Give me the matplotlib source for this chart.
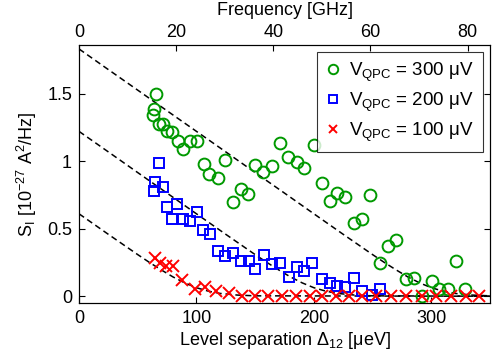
import matplotlib
matplotlib.use("Agg")
import matplotlib.pyplot as plt
from matplotlib import font_manager

names = {f.name for f in font_manager.fontManager.ttflist}
fam = 'Liberation Sans Narrow' if 'Liberation Sans Narrow' in names else 'Liberation Sans'
plt.rcParams['font.family'] = [fam, 'DejaVu Sans']
plt.rcParams['mathtext.fontset'] = 'custom'
plt.rcParams['mathtext.rm'] = fam
plt.rcParams['mathtext.it'] = fam + ':italic'
plt.rcParams['mathtext.bf'] = fam + ':bold'

# ---- data ----
green_x = [65.4, 63.7, 62.9, 68.0, 71.4, 74.8, 79.0, 84.1, 88.4, 94.3, 100.3, 106.2, 110.4, 118.1,
           124.0, 130.8, 137.6, 143.6, 149.5, 156.3, 164.0, 170.8, 177.6, 185.2, 192.0, 199.7,
           206.5, 213.3, 220.1, 226.8, 234.5, 241.3, 248.1, 256.6, 263.4, 270.2, 278.7, 285.5,
           292.3, 300.8, 306.7, 314.4, 321.2, 328.8]
green_y = [1.496, 1.385, 1.341, 1.274, 1.274, 1.222, 1.215, 1.148, 1.089, 1.148, 1.148, 0.978, 0.904, 0.874,
           1.007, 0.696, 0.793, 0.756, 0.970, 0.919, 0.963, 1.133, 1.030, 0.993, 0.948, 1.119,
           0.837, 0.704, 0.763, 0.733, 0.541, 0.570, 0.748, 0.244, 0.370, 0.415, 0.126, 0.133,
           0.000, 0.111, 0.052, 0.052, 0.259, 0.052]

blue_x = [68.0, 64.6, 71.4, 63.7, 74.8, 83.3, 79.0, 88.4, 94.3, 100.3, 105.4, 111.3, 118.1, 124.0,
          130.8, 137.6, 144.4, 149.5, 157.2, 164.0, 170.8, 178.4, 185.2, 192.0, 198.8, 206.5,
          213.3, 220.1, 226.8, 234.5, 241.3, 249.8, 256.6]
blue_y = [0.985, 0.844, 0.807, 0.778, 0.659, 0.681, 0.570, 0.570, 0.556, 0.622, 0.489, 0.459, 0.333, 0.296,
          0.319, 0.259, 0.259, 0.200, 0.304, 0.237, 0.244, 0.141, 0.215, 0.185, 0.244, 0.126,
          0.096, 0.074, 0.067, 0.133, 0.037, 0.007, 0.052]

red_x = [64.6, 68.8, 73.9, 79.9, 87.5, 98.6, 107.1, 116.4, 127.4, 138.5, 149.5, 160.6, 172.5, 184.4,
         196.3, 207.3, 219.2, 230.2, 241.3, 253.2, 265.9, 278.7, 292.3, 304.2, 316.9, 329.7, 340.7]
red_y = [0.281, 0.244, 0.222, 0.222, 0.119, 0.052, 0.067, 0.037, 0.022, 0.005, 0.0, 0.003, 0.0, 0.002,
         0.0, 0.003, 0.0, 0.0, 0.002, 0.0, 0.0, 0.003, 0.0, 0.0, 0.0, 0.0, 0.0]

# theory (dashed) curves
fit300_x = [0, 25, 50, 75, 100, 125, 150, 175, 200, 225, 240, 250, 260, 270, 280, 290, 300, 310, 320, 335, 350]
fit300_y = [1.83, 1.677, 1.525, 1.372, 1.22, 1.068, 0.915, 0.763, 0.610, 0.458, 0.368, 0.308, 0.250,
            0.195, 0.143, 0.099, 0.063, 0.038, 0.021, 0.0085, 0.003]
fit200_x = [0, 25, 50, 75, 100, 125, 140, 150, 160, 170, 180, 190, 200, 210, 220, 235, 250, 350]
fit200_y = [1.22, 1.068, 0.915, 0.763, 0.610, 0.458, 0.368, 0.308, 0.250, 0.195, 0.143, 0.099, 0.063,
            0.038, 0.021, 0.0085, 0.003, 0.0]
fit100_x = [0, 25, 40, 50, 60, 70, 80, 90, 100, 110, 120, 135, 150, 350]
fit100_y = [0.61, 0.458, 0.368, 0.308, 0.250, 0.195, 0.143, 0.099, 0.063, 0.038, 0.021, 0.0085, 0.003, 0.0]

x_ticks = [0, 100, 200, 300]
y_ticks = [0, 0.5, 1, 1.5]
y_ticklabels = ['0', '0.5', '1', '1.5']
f_ticks = [0, 20, 40, 60, 80]
ueV_per_GHz = 4.1357

green = '#009900'
blue = '#0000ff'
red = '#ff0000'

fig = plt.figure(figsize=(4.97, 3.62), dpi=100)
ax = fig.add_axes([0.159, 0.163, 0.827, 0.713])

for fx, fy in [(fit300_x, fit300_y), (fit200_x, fit200_y), (fit100_x, fit100_y)]:
    ax.plot(fx, fy, color='black', ls=(0, (4, 2.5)), lw=1.1, zorder=2)

ax.plot(green_x, green_y, 'o', mfc='none', mec=green, mew=1.4, ms=8.5, ls='none', zorder=3,
        label=r'V$_{\mathrm{QPC}}$ = 300 μV')
ax.plot(blue_x, blue_y, 's', mfc='none', mec=blue, mew=1.4, ms=7.5, ls='none', zorder=3,
        label=r'V$_{\mathrm{QPC}}$ = 200 μV')
ax.plot(red_x, red_y, 'x', color=red, mew=1.4, ms=8, ls='none', zorder=3,
        label=r'V$_{\mathrm{QPC}}$ = 100 μV')

ax.set_xlim(0, 350)
ax.set_ylim(-0.05, 1.86)
ax.set_xticks(x_ticks)
ax.set_yticks(y_ticks)
ax.set_yticklabels(y_ticklabels)
ax.tick_params(direction='in', labelsize=13, length=4, top=False, right=True, pad=5)
ax.set_xlabel(r'Level separation Δ$_{\mathrm{12}}$ [μeV]', fontsize=13, labelpad=2)
ax.set_ylabel(r'S$_{\mathrm{I}}$ [10$^{\mathrm{-27}}$ A$^{\mathrm{2}}$/Hz]', fontsize=13, labelpad=6)

ax2 = ax.twiny()
ax2.set_xlim(0, 350 / ueV_per_GHz)
ax2.set_xticks(f_ticks)
ax2.tick_params(direction='in', labelsize=13, length=4, pad=3)
ax2.set_xlabel('Frequency [GHz]', fontsize=13, labelpad=6)

leg = ax.legend(loc='upper right', fontsize=13.5, frameon=True, fancybox=False, edgecolor='black',
                handlelength=0.8, handletextpad=0.5, borderpad=0.45, labelspacing=0.35,
                borderaxespad=0.4, markerscale=0.8)
leg.get_frame().set_linewidth(0.8)

fig.savefig('out.png', dpi=100)
